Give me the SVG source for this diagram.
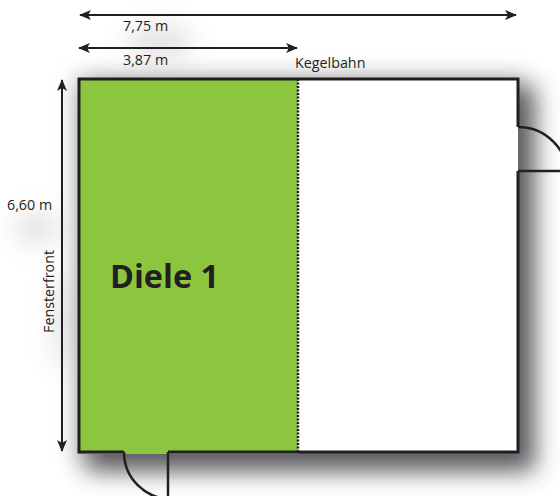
<svg xmlns="http://www.w3.org/2000/svg" width="560" height="496" viewBox="0 0 560 496">
<style>
text{font-family:"Open Sans","Noto Sans","Liberation Sans",sans-serif;fill:#231f20}
.lbl{font-size:14.3px}
.wall{fill:none;stroke:#231f20;stroke-width:3}
.dim{fill:none;stroke:#231f20;stroke-width:2}
.door{fill:none;stroke:#231f20;stroke-width:2.5}
</style>
<defs>
<filter id="blur" x="-20%" y="-20%" width="140%" height="140%"><feGaussianBlur stdDeviation="12"/></filter>
<filter id="wide" x="-20%" y="-20%" width="140%" height="140%"><feGaussianBlur stdDeviation="10"/></filter>
<filter id="soft" x="-150%" y="-150%" width="400%" height="400%"><feGaussianBlur stdDeviation="13"/></filter>
<marker id="ah" viewBox="0 0 12 10" refX="11" refY="5" markerWidth="12" markerHeight="10" markerUnits="userSpaceOnUse" orient="auto-start-reverse"><path d="M0 0L12 5L0 10L3 5Z" fill="#231f20"/></marker>
</defs>
<rect width="560" height="496" fill="#fff"/>
<g id="shadows">
<rect x="72" y="72" width="452" height="390" fill="#9a9aa0" opacity=".3" filter="url(#wide)"/>
<rect x="86" y="86" width="449" height="385" fill="#47474c" opacity=".88" filter="url(#blur)"/>
<ellipse cx="160" cy="42" rx="34" ry="16" fill="#9a9aa0" opacity=".3" filter="url(#soft)"/>
<ellipse cx="36" cy="228" rx="22" ry="16" fill="#9a9aa0" opacity=".3" filter="url(#soft)"/>
<ellipse cx="62" cy="320" rx="10" ry="50" fill="#9a9aa0" opacity=".25" filter="url(#soft)"/>
</g>
<g id="diele-1">
<rect x="79" y="79" width="219" height="375" fill="#8cc63f"/>
<text x="110" y="288" font-size="32.4" font-weight="700">Diele 1</text>
</g>
<g id="kegelbahn">
<rect x="298" y="79" width="220" height="373" fill="#fff"/>
<text class="lbl" x="295" y="68">Kegelbahn</text>
</g>
<g id="walls">
<path class="wall" d="M124 452H79V79H518V127M518 171V452H168"/>
<path d="M298 79V452" fill="none" stroke="#231f20" stroke-width="2.5" stroke-dasharray="2 1.5"/>
</g>
<g id="connectors">
<path class="dim" d="M80 15H516" marker-start="url(#ah)" marker-end="url(#ah)"/>
<path class="dim" d="M79 48H297" marker-start="url(#ah)" marker-end="url(#ah)"/>
<path class="dim" d="M62 80V451" marker-start="url(#ah)" marker-end="url(#ah)"/>
<path class="door" d="M518 127A50 50 0 0 1 568 177M518 171H560"/>
<path class="door" d="M124 452A47 47 0 0 0 171 499M168 452V496"/>
</g>
<g id="labels">
<text class="lbl" x="123" y="31">7,75 m</text>
<text class="lbl" x="123" y="65">3,87 m</text>
<text class="lbl" x="7" y="210">6,60 m</text>
<text class="lbl" transform="translate(54 333) rotate(-90)">Fensterfront</text>
</g>
</svg>
